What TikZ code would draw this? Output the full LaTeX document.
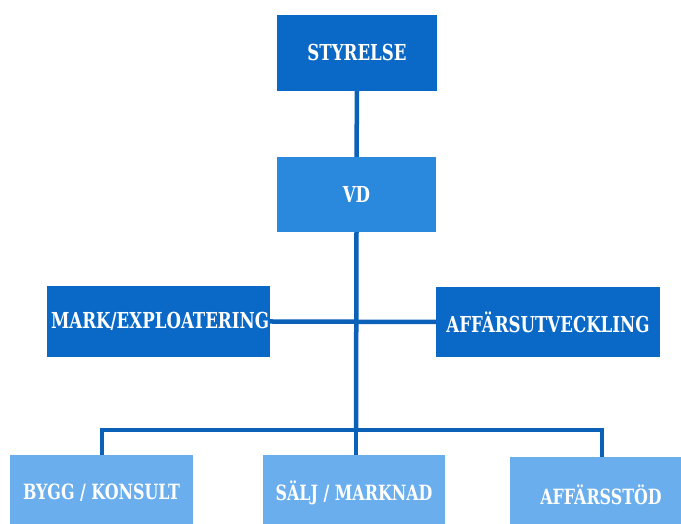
\documentclass[tikz,border=0pt]{standalone}
\usepackage{fontspec}
\newfontfamily\boxfont{DejaVu Serif Condensed}[FakeStretch=0.84]
\definecolor{darkbox}{HTML}{0A69C7}
\definecolor{midbox}{HTML}{2A88DD}
\definecolor{lightbox}{HTML}{6BAEEE}
\definecolor{linecol}{HTML}{0B60B8}
\begin{document}
\begin{tikzpicture}[x=1pt,y=1pt,
  box/.style={rectangle, inner sep=0pt, text=white, font=\boxfont\bfseries\fontsize{22}{22}\selectfont},
  lowbox/.style={box, fill=lightbox, minimum height=75, font=\boxfont\bfseries\fontsize{21}{21}\selectfont},
  conn/.style={draw=linecol, line width=4.5pt}]
\useasboundingbox (0,0) rectangle (681,524);
\node[box, fill=darkbox, minimum width=160, minimum height=76] (sty) at (357,471) {STYRELSE};
\node[box, fill=midbox, minimum width=159, minimum height=75] (vd) at (356.5,329.5) {VD};
\node[box, fill=darkbox, minimum width=223, minimum height=71] (mark) at (158.5,202.5) {\hspace*{3pt}MARK/EXPLOATERING};
\node[box, fill=darkbox, minimum width=224, minimum height=70] (aff) at (548,202) {AFFÄRSUTVECKLING};
\node[lowbox, minimum width=183] (bygg) at (101.5,31.5) {BYGG / KONSULT};
\node[lowbox, minimum width=182] (salj) at (354,31) {SÄLJ / MARKNAD};
\node[lowbox, minimum width=182] (stod) at (601,29) {AFFÄRSSTÖD};
\coordinate (bar) at (356,94);
\coordinate (barL) at (102,94);
\coordinate (barR) at (602,94);
\draw[conn] (sty.south) -- (vd.north);
\draw[conn] (vd.south) -- (bar);
\draw[conn] (mark.east) -- (aff.west);
\draw[conn, line join=miter] (bygg.north -| barL) -- (barL) -- (barR) -- (stod.north -| barR);
\draw[conn] (bar) -- (salj.north -| bar);
\end{tikzpicture}
\end{document}
